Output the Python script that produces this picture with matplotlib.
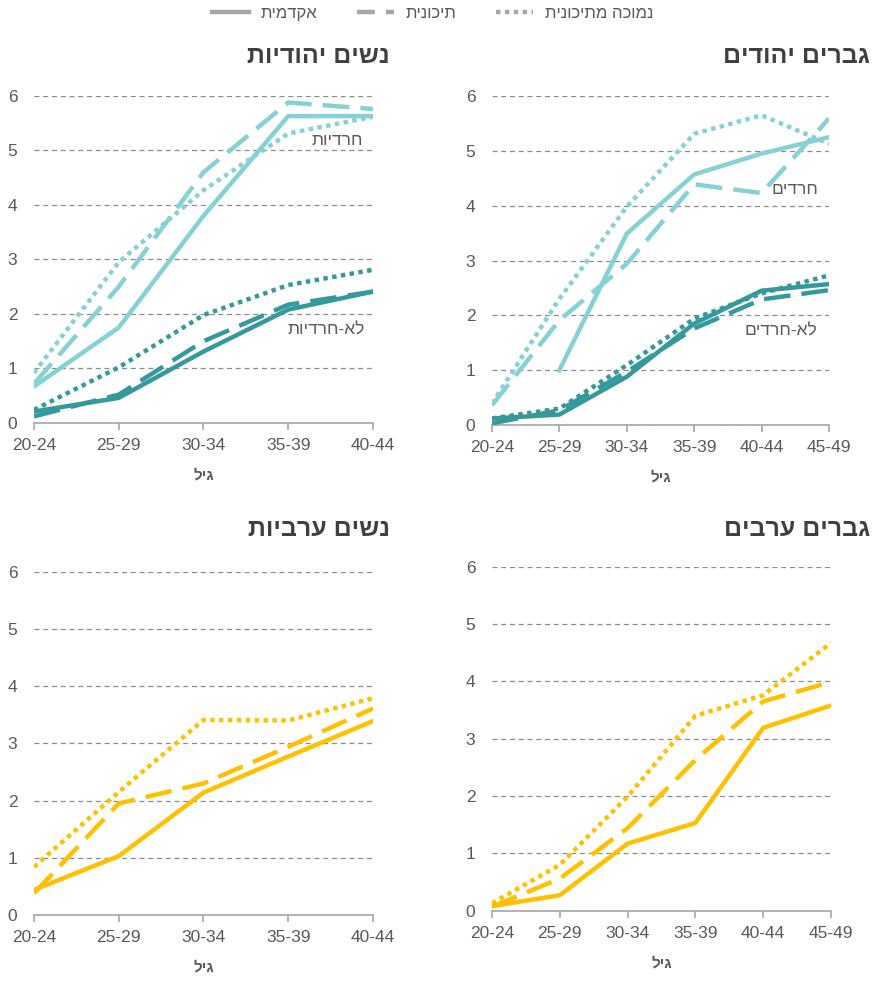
import matplotlib.pyplot as plt
import numpy as np
from matplotlib.lines import Line2D

plt.rcParams['font.family'] = ['Liberation Sans', 'DejaVu Sans']


def heb(s):
    # matplotlib has no bidi support, so reverse Hebrew text for display
    return s[::-1]


# Data
ages_w = ["20-24", "25-29", "30-34", "35-39", "40-44"]
ages_m = ["20-24", "25-29", "30-34", "35-39", "40-44", "45-49"]

# Jewish women
jw_haredi_acad = [0.67, 1.75, 3.8, 5.63, 5.63]
jw_haredi_high = [0.72, 2.5, 4.6, 5.88, 5.76]
jw_haredi_low = [0.92, 2.95, 4.27, 5.31, 5.62]
jw_other_acad = [0.21, 0.46, 1.31, 2.08, 2.41]
jw_other_high = [0.12, 0.52, 1.5, 2.17, 2.41]
jw_other_low = [0.24, 1.02, 1.98, 2.53, 2.81]

# Jewish men
jm_haredi_acad = [np.nan, 1.0, 3.49, 4.57, 4.95, 5.25]
jm_haredi_high = [0.36, 1.91, 2.94, 4.39, 4.23, 5.59]
jm_haredi_low = [0.39, 2.3, 3.98, 5.31, 5.65, 5.13]
jm_other_acad = [0.12, 0.19, 0.88, 1.85, 2.45, 2.57]
jm_other_high = [0.03, 0.27, 0.97, 1.76, 2.29, 2.46]
jm_other_low = [0.12, 0.3, 1.09, 1.94, 2.4, 2.73]

# Arab women
aw_acad = [0.44, 1.03, 2.14, 2.77, 3.39]
aw_high = [0.38, 1.95, 2.3, 2.94, 3.61]
aw_low = [0.84, 2.15, 3.41, 3.4, 3.79]

# Arab men
am_acad = [0.08, 0.27, 1.17, 1.53, 3.19, 3.58]
am_high = [0.07, 0.56, 1.44, 2.63, 3.65, 3.99]
am_low = [0.13, 0.8, 1.99, 3.4, 3.76, 4.67]

light = "#86D1D3"
dark = "#35999C"
yellow = "#FFC000"
gray_txt = "#595959"

styles = {
    "acad": dict(linestyle="-"),
    "high": dict(linestyle=(0, (6, 2.5))),
    "low": dict(linestyle=(0, (1, 1)), dash_capstyle="butt"),
}

fig = plt.figure(figsize=(8.76, 9.82), dpi=100)

ax_jw = fig.add_axes([0.0388, 0.5693, 0.387, 0.333])
ax_jm = fig.add_axes([0.5616, 0.5672, 0.3847, 0.335])
ax_aw = fig.add_axes([0.0388, 0.0682, 0.387, 0.3496])
ax_am = fig.add_axes([0.5616, 0.0726, 0.3870, 0.3503])


def draw(ax, ages, series, color):
    x = np.arange(len(ages))
    for key, vals in series:
        ax.plot(x, vals, color=color, lw=3.2, **styles[key])


def style(ax, ages, title, title_x, title_y):
    ax.set_xlim(0, len(ages) - 1)
    ax.set_ylim(0, 6)
    ax.set_xticks(np.arange(len(ages)))
    ax.set_xticklabels(ages)
    ax.set_yticks(range(7))
    ax.grid(axis="y", color="#8C8C8C", linestyle=(0, (4, 3)), lw=0.9)
    ax.set_axisbelow(True)
    for s in ["top", "right", "left"]:
        ax.spines[s].set_visible(False)
    ax.spines["bottom"].set_color("#A6A6A6")
    ax.spines["bottom"].set_linewidth(1.2)
    ax.spines["bottom"].set_zorder(1)
    ax.tick_params(axis="x", colors="#A6A6A6", length=5, width=1.2, labelsize=12.5,
                   labelcolor=gray_txt, pad=6)
    ax.tick_params(axis="y", length=0, labelsize=12.5, labelcolor=gray_txt, pad=12)
    ax.set_xlabel(heb("גיל"), fontsize=11, fontweight="bold", color=gray_txt, labelpad=11)
    fig.text(title_x / 876, 1 - title_y / 982, heb(title), ha="right", va="center",
             fontsize=18, fontweight="bold", color="#404040")


draw(ax_jw, ages_w, [("acad", jw_haredi_acad), ("high", jw_haredi_high), ("low", jw_haredi_low)], light)
draw(ax_jw, ages_w, [("acad", jw_other_acad), ("high", jw_other_high), ("low", jw_other_low)], dark)
style(ax_jw, ages_w, "נשים יהודיות", 390, 56)
ax_jw.text(3.88, 5.19, heb("חרדיות"), ha="right", va="center", fontsize=12.5, color=gray_txt)
ax_jw.text(3.9, 1.7, heb("לא-חרדיות"), ha="right", va="center", fontsize=12.5, color=gray_txt)

draw(ax_jm, ages_m, [("acad", jm_haredi_acad), ("high", jm_haredi_high), ("low", jm_haredi_low)], light)
draw(ax_jm, ages_m, [("acad", jm_other_acad), ("high", jm_other_high), ("low", jm_other_low)], dark)
style(ax_jm, ages_m, "גברים יהודים", 870, 56)
ax_jm.text(4.85, 4.3, heb("חרדים"), ha="right", va="center", fontsize=12.5, color=gray_txt)
ax_jm.text(4.82, 1.71, heb("לא-חרדים"), ha="right", va="center", fontsize=12.5, color=gray_txt)

draw(ax_aw, ages_w, [("acad", aw_acad), ("high", aw_high), ("low", aw_low)], yellow)
style(ax_aw, ages_w, "נשים ערביות", 390, 529)

draw(ax_am, ages_m, [("acad", am_acad), ("high", am_high), ("low", am_low)], yellow)
style(ax_am, ages_m, "גברים ערבים", 870, 529)

# Legend (sample on the left of each label)
leg_gray = "#A6A6A6"
handles = [
    Line2D([], [], color=leg_gray, lw=3.2, linestyle="-"),
    Line2D([], [], color=leg_gray, lw=3.2, linestyle=(0, (4, 2.5))),
    Line2D([], [], color=leg_gray, lw=3.2, **styles["low"]),
]
labels = [heb("אקדמית"), heb("תיכונית"), heb("נמוכה מתיכונית")]
fig.legend(handles, labels, loc="upper center", bbox_to_anchor=(0.4937, 1.009), ncol=3,
           frameon=False, fontsize=12, labelcolor=gray_txt, handlelength=2.2,
           columnspacing=2.4, handletextpad=0.7)

fig.savefig("out.png", dpi=100)
